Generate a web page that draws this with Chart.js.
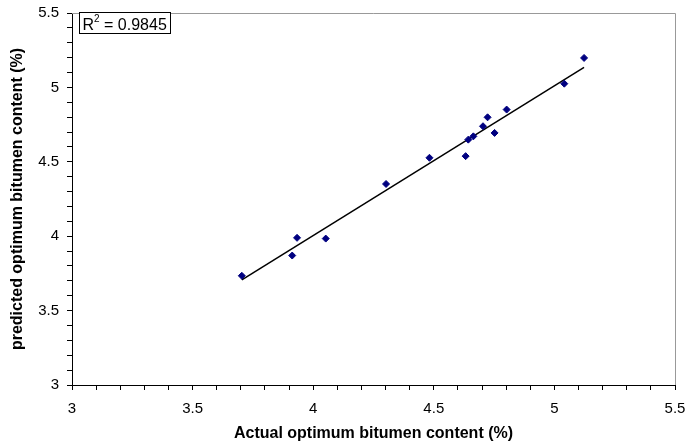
<!DOCTYPE html>
<html>
<head>
<meta charset="utf-8">
<script src="https://cdn.jsdelivr.net/npm/chart.js@4.4.1/dist/chart.umd.min.js"></script>
<style>
  html, body { margin: 0; padding: 0; background: #fff; }
  #wrap { width: 687px; height: 446px; }
</style>
</head>
<body>
<div id="wrap"><canvas id="grafico" width="687" height="446"></canvas></div>
<script>
// valores
const actual = [3.704, 3.913, 3.933, 4.052, 4.302, 4.482, 4.632, 4.643, 4.664, 4.704, 4.723, 4.752, 4.802, 5.041, 5.123];
const predicted = [3.734, 3.870, 3.989, 3.984, 4.351, 4.527, 4.538, 4.649, 4.671, 4.739, 4.799, 4.694, 4.851, 5.025, 5.198];
// linha de tendência (extremos lidos)
const trendX = [3.704, 5.123];
const trendY = [3.707, 5.135];
const r2Text = '0.9845';
const axisMin = 3, axisMax = 5.5;

const fonte = 'Arial, "Liberation Sans", sans-serif';

function rotulo(v) {
    const d = v * 2;
    if (Math.abs(d - Math.round(d)) < 1e-6) return String(Math.round(d) / 2);
    return '';
}

// borda cinza (topo e direita) + caixa do R²
const extras = {
    id: 'extras',
    afterDraw(c) {
        const ctx = c.ctx, a = c.chartArea;
        ctx.save();
        ctx.strokeStyle = '#999';
        ctx.lineWidth = 1;
        ctx.beginPath();
        ctx.moveTo(a.left, a.top + 0.5);
        ctx.lineTo(a.right + 0.5, a.top + 0.5);
        ctx.lineTo(a.right + 0.5, a.bottom);
        ctx.stroke();

        // caixa R²
        const bx = 79.5, by = 12.5, bw = 91, bh = 21;
        ctx.fillStyle = '#fff';
        ctx.fillRect(bx, by, bw, bh);
        ctx.strokeStyle = '#000';
        ctx.strokeRect(bx, by, bw, bh);
        ctx.fillStyle = '#000';
        ctx.textBaseline = 'alphabetic';
        ctx.font = '16px ' + fonte;
        let x = bx + 3;
        ctx.fillText('R', x, by + 17);
        x += ctx.measureText('R').width;
        ctx.font = '10px ' + fonte;
        ctx.fillText('2', x, by + 9);
        x += ctx.measureText('2').width;
        ctx.font = '16px ' + fonte;
        ctx.fillText(' = ' + r2Text, x, by + 17);
        ctx.restore();
    }
};

const eixo = (titulo) => ({
    type: 'linear',
    min: axisMin,
    max: axisMax,
    grid: { drawOnChartArea: false, drawTicks: true, tickLength: 5, color: '#000' },
    border: { color: '#000', width: 1 },
    ticks: {
        stepSize: 0.1,
        autoSkip: false,
        maxRotation: 0,
        color: '#000',
        font: { family: fonte, size: 15 },
        callback: rotulo
    },
    title: {
        display: true,
        text: titulo,
        color: '#000',
        font: { family: fonte, size: 16, weight: 'bold' }
    }
});

const xEixo = eixo('Actual optimum bitumen content (%)');
xEixo.ticks.padding = 10;
xEixo.title.padding = { top: 4, bottom: 3 };
xEixo.afterFit = s => { s.height = 61; s.paddingLeft = 0; s.paddingRight = 12; };

const yEixo = eixo('predicted optimum bitumen content (%)');
yEixo.ticks.padding = 8;
yEixo.title.padding = { top: 2, bottom: 4 };
yEixo.afterFit = s => { s.width = 66; s.paddingTop = 0; s.paddingBottom = 0; };

new Chart(document.getElementById('grafico'), {
    type: 'scatter',
    data: {
        datasets: [
            {
                label: 'dados',
                data: actual.map((v, i) => ({ x: v, y: predicted[i] })),
                pointStyle: 'rectRot',
                radius: 3.5,
                backgroundColor: '#000080',
                borderColor: '#000080',
                borderWidth: 1
            },
            {
                label: 'tendência',
                type: 'line',
                data: trendX.map((v, i) => ({ x: v, y: trendY[i] })),
                borderColor: '#000',
                borderWidth: 1.5,
                pointRadius: 0,
                fill: false
            }
        ]
    },
    options: {
        responsive: false,
        animation: false,
        layout: { padding: { left: 6, right: 0, top: 13, bottom: 0 } },
        plugins: { legend: { display: false }, tooltip: { enabled: false } },
        scales: { x: xEixo, y: yEixo }
    },
    plugins: [extras]
});
</script>
</body>
</html>
